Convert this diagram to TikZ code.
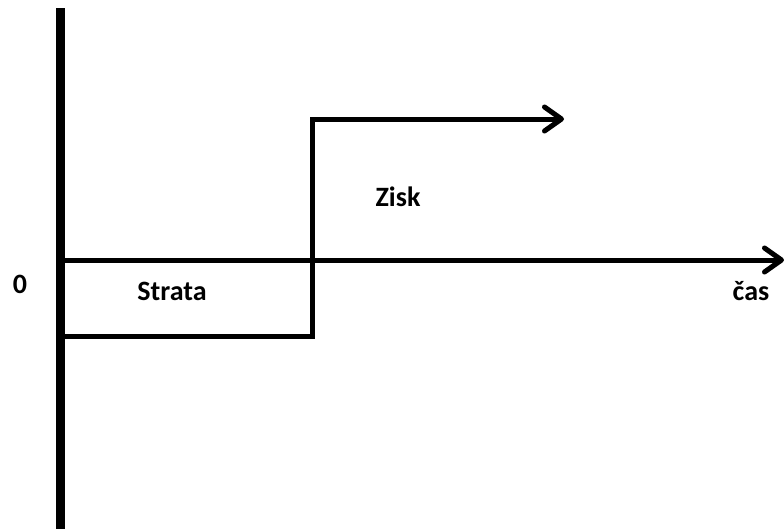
\documentclass[tikz,border=0pt]{standalone}
\usepackage{fontspec}
\setmainfont{Carlito}
\usetikzlibrary{arrows.meta}
\begin{document}
\begin{tikzpicture}[x=1pt,y=-1pt,
  tip/.style={-{Straight Barb[length=17pt,width=24pt,line cap=round,line join=round]}},
  axis/.style={line width=9pt},
  haxis/.style={line width=5pt,tip},
  stepline/.style={line width=5pt,line join=miter,tip},
  shadow/.style={draw=black!50,opacity=0.35,shift={(2.5,-2.5)}},
  lbl/.style={font=\bfseries\fontsize{28}{32}\selectfont,inner sep=0pt}]
\useasboundingbox (0,0) rectangle (784,528);
\coordinate (vt) at (60,8);
\coordinate (vb) at (60,540);
\coordinate (ho) at (60,260);
\coordinate (he) at (784,260);
\coordinate (s0) at (62,336);
\coordinate (s1) at (312,336);
\coordinate (s2) at (312,119);
\coordinate (s3) at (564,119);
\draw[axis,shadow] (vt) -- (vb);
\draw[haxis,shadow] (ho) -- (he);
\draw[stepline,shadow] (s0) -- (s1) -- (s2) -- (s3);
\draw[axis] (vt) -- (vb);
\draw[haxis] (ho) -- (he);
\draw[stepline] (s0) -- (s1) -- (s2) -- (s3);
\node[lbl] (zero) at (20,284) {0};
\node[lbl] (strata) at (172,291) {Strata};
\node[lbl] (zisk) at (398,197) {Zisk};
\node[lbl] (cas) at (751,291) {čas};
\end{tikzpicture}
\end{document}
